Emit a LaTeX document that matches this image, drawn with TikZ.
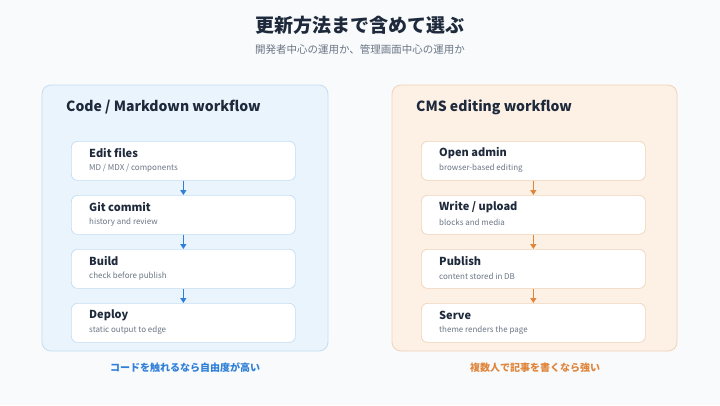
\documentclass[tikz,border=0pt]{standalone}
\usepackage{fontspec}
\setmainfont{Noto Sans CJK JP}
\usetikzlibrary{arrows.meta}
\definecolor{ink}{HTML}{1E2A3B}
\definecolor{sub}{HTML}{6B7685}
\definecolor{bluefill}{HTML}{EAF4FD}
\definecolor{blueline}{HTML}{C5DDF2}
\definecolor{blueacc}{HTML}{2F7FD8}
\definecolor{orfill}{HTML}{FDF1E6}
\definecolor{orline}{HTML}{F0D3B8}
\definecolor{oracc}{HTML}{E0853A}
\definecolor{bg}{HTML}{F8FAFC}
\begin{document}
\begin{tikzpicture}[x=1pt,y=-1pt,
 panel/.style={rounded corners=9pt,line width=0.8pt},
 card/.style={draw=#1,fill=white,rounded corners=6pt,line width=0.7pt,minimum width=224pt,minimum height=39pt,anchor=north west},
 ttl/.style={anchor=west,inner sep=0pt,font=\bfseries\fontsize{11}{13}\selectfont,text=ink},
 st/.style={anchor=west,inner sep=0pt,font=\fontsize{8}{10}\selectfont,text=sub},
 arr/.style={-{Triangle[length=5pt,width=6pt]},line width=1.5pt}]
\fill[bg] (0,0) rectangle (720,405);
\useasboundingbox (0,0) rectangle (720,405);
\node[font=\bfseries\fontsize{19}{22}\selectfont,text=ink] (title) at (360,25) {更新方法まで含めて選ぶ};
\node[font=\fontsize{10.5}{12}\selectfont,text=sub] (subt) at (360,50) {開発者中心の運用か、管理画面中心の運用か};
% left
\draw[panel,fill=bluefill,draw=blueline] (42,85) rectangle (328,351);
\node[anchor=west,inner sep=0pt,font=\bfseries\fontsize{14}{16}\selectfont,text=ink] (lt) at (66,107) {Code / Markdown workflow};
\foreach \n/\y/\a/\b in {l1/141/{Edit files}/{MD / MDX / components},l2/195/{Git commit}/{history and review},l3/249/{Build}/{check before publish},l4/303/{Deploy}/{static output to edge}}{
 \node[card=blueline] (\n) at (71,\y) {};
 \node[ttl] at (89,\y+12) {\a};
 \node[st] at (89,\y+27) {\b};
}
\foreach \p/\q in {l1/l2,l2/l3,l3/l4}{\draw[arr,blueacc] (\p.south) -- (\q.north);}
\node[font=\bfseries\fontsize{10}{12}\selectfont,text=blueacc] (lc) at (185,368) {コードを触れるなら自由度が高い};
% right
\draw[panel,fill=orfill,draw=orline] (392,85) rectangle (677,351);
\node[anchor=west,inner sep=0pt,font=\bfseries\fontsize{14}{16}\selectfont,text=ink] (rt) at (416,107) {CMS editing workflow};
\foreach \n/\y/\a/\b in {r1/141/{Open admin}/{browser-based editing},r2/195/{Write / upload}/{blocks and media},r3/249/{Publish}/{content stored in DB},r4/303/{Serve}/{theme renders the page}}{
 \node[card=orline] (\n) at (421,\y) {};
 \node[ttl] at (439,\y+12) {\a};
 \node[st] at (439,\y+27) {\b};
}
\foreach \p/\q in {r1/r2,r2/r3,r3/r4}{\draw[arr,oracc] (\p.south) -- (\q.north);}
\node[font=\bfseries\fontsize{10}{12}\selectfont,text=oracc] (rc) at (535,368) {複数人で記事を書くなら強い};
\end{tikzpicture}
\end{document}
